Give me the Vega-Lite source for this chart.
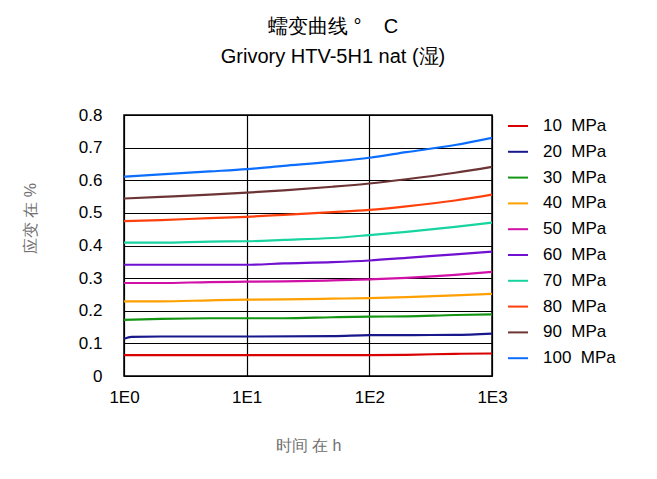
{
  "$schema": "https://vega.github.io/schema/vega-lite/v6.json",
  "width": 368,
  "height": 261,
  "autosize": {"type": "none"},
  "padding": {"left": 124, "top": 115, "right": 165, "bottom": 103},
  "background": "white",
  "title": {
    "text": "蠕变曲线 °\u00a0\u00a0\u00a0\u00a0C",
    "subtitle": "Grivory HTV-5H1 nat (湿)",
    "anchor": "middle",
    "dx": 25,
    "offset": 39,
    "font": "Liberation Sans",
    "fontSize": 20,
    "fontWeight": "normal",
    "color": "black",
    "subtitleFont": "Liberation Sans",
    "subtitleFontSize": 20,
    "subtitleColor": "black",
    "subtitlePadding": 10
  },
  "config": {
    "view": {"stroke": "black", "strokeWidth": 1.5},
    "font": "Liberation Sans",
    "axis": {
      "labelFont": "Liberation Sans",
      "labelColor": "black",
      "labelFontSize": 17,
      "gridColor": "black",
      "gridOpacity": 1,
      "gridWidth": 1.2,
      "domain": false,
      "ticks": false,
      "titleFont": "Liberation Sans",
      "titleFontWeight": "normal",
      "titleColor": "#707070",
      "titleFontSize": 16
    },
    "legend": {
      "labelFont": "Liberation Sans",
      "labelFontSize": 17,
      "labelColor": "black"
    }
  },
  "data": {
    "values": [
      {"t": 1, "s": 10, "e": 0.064}, {"t": 10, "s": 10, "e": 0.064}, {"t": 100, "s": 10, "e": 0.064}, {"t": 200, "s": 10, "e": 0.065}, {"t": 500, "s": 10, "e": 0.068}, {"t": 1000, "s": 10, "e": 0.069},
      {"t": 1, "s": 20, "e": 0.114}, {"t": 1.15, "s": 20, "e": 0.120}, {"t": 2, "s": 20, "e": 0.121}, {"t": 10, "s": 20, "e": 0.121}, {"t": 50, "s": 20, "e": 0.122}, {"t": 100, "s": 20, "e": 0.125}, {"t": 500, "s": 20, "e": 0.126}, {"t": 1000, "s": 20, "e": 0.130},
      {"t": 1, "s": 30, "e": 0.172}, {"t": 2, "s": 30, "e": 0.175}, {"t": 5, "s": 30, "e": 0.177}, {"t": 10, "s": 30, "e": 0.177}, {"t": 20, "s": 30, "e": 0.177}, {"t": 50, "s": 30, "e": 0.180}, {"t": 100, "s": 30, "e": 0.182}, {"t": 200, "s": 30, "e": 0.183}, {"t": 500, "s": 30, "e": 0.187}, {"t": 1000, "s": 30, "e": 0.189},
      {"t": 1, "s": 40, "e": 0.229}, {"t": 2, "s": 40, "e": 0.229}, {"t": 5, "s": 40, "e": 0.232}, {"t": 10, "s": 40, "e": 0.234}, {"t": 20, "s": 40, "e": 0.235}, {"t": 50, "s": 40, "e": 0.237}, {"t": 100, "s": 40, "e": 0.239}, {"t": 200, "s": 40, "e": 0.242}, {"t": 500, "s": 40, "e": 0.247}, {"t": 1000, "s": 40, "e": 0.252},
      {"t": 1, "s": 50, "e": 0.285}, {"t": 2, "s": 50, "e": 0.285}, {"t": 5, "s": 50, "e": 0.288}, {"t": 10, "s": 50, "e": 0.289}, {"t": 20, "s": 50, "e": 0.290}, {"t": 50, "s": 50, "e": 0.293}, {"t": 100, "s": 50, "e": 0.296}, {"t": 200, "s": 50, "e": 0.301}, {"t": 500, "s": 50, "e": 0.310}, {"t": 1000, "s": 50, "e": 0.319},
      {"t": 1, "s": 60, "e": 0.341}, {"t": 2, "s": 60, "e": 0.341}, {"t": 5, "s": 60, "e": 0.341}, {"t": 10, "s": 60, "e": 0.341}, {"t": 20, "s": 60, "e": 0.345}, {"t": 50, "s": 60, "e": 0.349}, {"t": 100, "s": 60, "e": 0.354}, {"t": 200, "s": 60, "e": 0.362}, {"t": 500, "s": 60, "e": 0.373}, {"t": 1000, "s": 60, "e": 0.381},
      {"t": 1, "s": 70, "e": 0.409}, {"t": 2, "s": 70, "e": 0.409}, {"t": 5, "s": 70, "e": 0.412}, {"t": 10, "s": 70, "e": 0.413}, {"t": 20, "s": 70, "e": 0.417}, {"t": 50, "s": 70, "e": 0.423}, {"t": 100, "s": 70, "e": 0.432}, {"t": 200, "s": 70, "e": 0.442}, {"t": 500, "s": 70, "e": 0.457}, {"t": 1000, "s": 70, "e": 0.470},
      {"t": 1, "s": 80, "e": 0.475}, {"t": 2, "s": 80, "e": 0.478}, {"t": 5, "s": 80, "e": 0.484}, {"t": 10, "s": 80, "e": 0.488}, {"t": 20, "s": 80, "e": 0.494}, {"t": 50, "s": 80, "e": 0.502}, {"t": 100, "s": 80, "e": 0.509}, {"t": 200, "s": 80, "e": 0.520}, {"t": 500, "s": 80, "e": 0.538}, {"t": 1000, "s": 80, "e": 0.556},
      {"t": 1, "s": 90, "e": 0.544}, {"t": 2, "s": 90, "e": 0.549}, {"t": 5, "s": 90, "e": 0.556}, {"t": 10, "s": 90, "e": 0.562}, {"t": 20, "s": 90, "e": 0.569}, {"t": 50, "s": 90, "e": 0.580}, {"t": 100, "s": 90, "e": 0.590}, {"t": 200, "s": 90, "e": 0.603}, {"t": 500, "s": 90, "e": 0.623}, {"t": 1000, "s": 90, "e": 0.641},
      {"t": 1, "s": 100, "e": 0.611}, {"t": 2, "s": 100, "e": 0.618}, {"t": 5, "s": 100, "e": 0.627}, {"t": 10, "s": 100, "e": 0.634}, {"t": 20, "s": 100, "e": 0.644}, {"t": 50, "s": 100, "e": 0.657}, {"t": 100, "s": 100, "e": 0.669}, {"t": 200, "s": 100, "e": 0.686}, {"t": 500, "s": 100, "e": 0.708}, {"t": 1000, "s": 100, "e": 0.730}
    ]
  },
  "mark": {"type": "line", "strokeWidth": 2.2, "interpolate": "monotone", "clip": true},
  "encoding": {
    "x": {
      "field": "t",
      "type": "quantitative",
      "scale": {"type": "log", "domain": [1, 1000], "nice": false},
      "axis": {
        "values": [1, 10, 100, 1000],
        "labelExpr": "'1E' + format(log(datum.value) / LN10, 'd')",
        "labelAlign": "center",
        "labelDx": -8,
        "labelPadding": 13,
        "title": "时间 在 h",
        "titlePadding": 32
      }
    },
    "y": {
      "field": "e",
      "type": "quantitative",
      "scale": {"domain": [0, 0.8], "nice": false, "zero": true},
      "axis": {
        "values": [0, 0.1, 0.2, 0.3, 0.4, 0.5, 0.6, 0.7, 0.8],
        "format": "~g",
        "labelPadding": 22,
        "title": "应变 在 %",
        "titlePadding": 40,
        "titleY": 103
      }
    },
    "color": {
      "field": "s",
      "type": "nominal",
      "scale": {
        "domain": [10, 20, 30, 40, 50, 60, 70, 80, 90, 100],
        "range": ["#d80000", "#18188c", "#149614", "#ffa000", "#d010a6", "#7010d0", "#18d4a0", "#ff400c", "#6c3434", "#0c6eff"]
      },
      "legend": {
        "title": null,
        "orient": "right",
        "offset": 15,
        "padding": 0,
        "symbolType": "stroke",
        "symbolSize": 400,
        "symbolStrokeWidth": 2,
        "labelOffset": 14,
        "rowPadding": 6.8,
        "labelExpr": "datum.label + '\u00a0\u00a0MPa'"
      }
    }
  }
}
